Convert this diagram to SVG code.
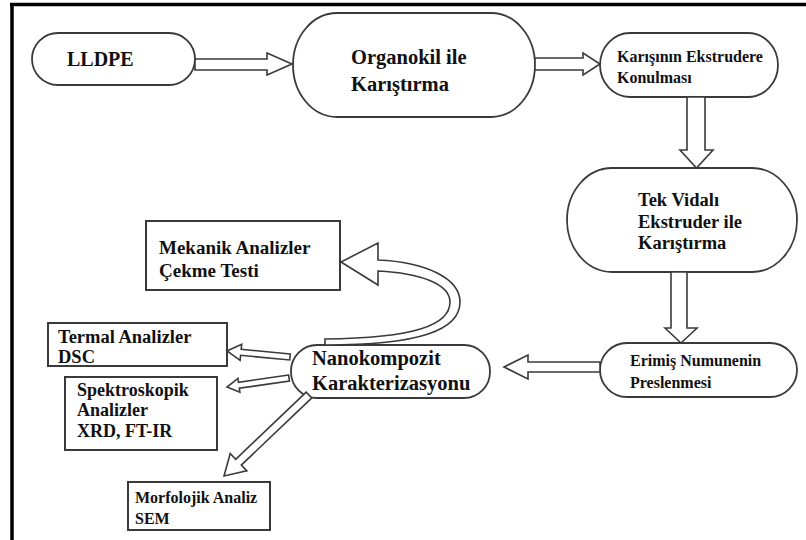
<svg xmlns="http://www.w3.org/2000/svg" width="806" height="540" viewBox="0 0 806 540" font-family="Liberation Serif, Times New Roman, serif" font-weight="bold">
<style>
.bg{fill:#fff}
.pill{fill:#fff;stroke:#3a3a3a;stroke-width:1.8}
.box{fill:#fff;stroke:#3a3a3a;stroke-width:2}
.arr{fill:#fff;stroke:#3a3a3a;stroke-width:1.6;stroke-linejoin:miter}
text{fill:#111}
.border{stroke:#000;stroke-width:3.5;fill:none}
</style>
<rect class="bg" x="0" y="0" width="806" height="540"/>
<path class="border" d="M10 4.5 H806 M12 3 V540"/>

<g id="n-lldpe">
<rect class="pill" x="32" y="33" width="163" height="52" rx="26" ry="26"/>
<text x="67" y="66" font-size="20">LLDPE</text>
</g>
<g id="n-organokil">
<rect class="pill" x="293" y="13" width="242" height="104" rx="44" ry="52"/>
<text x="351" y="64" font-size="20.5">Organokil ile</text>
<text x="351" y="91" font-size="20.5">Karıştırma</text>
</g>
<g id="n-karisim">
<rect class="pill" x="600" y="33" width="178" height="64" rx="30" ry="32"/>
<text x="617" y="62" font-size="16">Karışının Ekstrudere</text>
<text x="617" y="83" font-size="16">Konulması</text>
</g>
<g id="n-tekvidali">
<rect class="pill" x="567" y="168" width="230" height="104" rx="45" ry="52"/>
<text x="638" y="206" font-size="18.5">Tek Vidalı</text>
<text x="638" y="228" font-size="18.5">Ekstruder ile</text>
<text x="638" y="249" font-size="18.5">Karıştırma</text>
</g>
<g id="n-erimis">
<rect class="pill" x="600" y="343" width="197" height="54" rx="27" ry="27"/>
<text x="630" y="366" font-size="16">Erimiş Numunenin</text>
<text x="630" y="388" font-size="16">Preslenmesi</text>
</g>
<g id="n-nano">
<rect class="pill" x="291" y="345" width="199" height="53" rx="26" ry="26"/>
<text x="312" y="365" font-size="20.5">Nanokompozit</text>
<text x="312" y="390" font-size="20.5">Karakterizasyonu</text>
</g>
<g id="n-mekanik">
<rect class="box" x="146" y="221" width="194" height="69"/>
<text x="159" y="254" font-size="19">Mekanik Analizler</text>
<text x="159" y="277" font-size="19">Çekme Testi</text>
</g>
<g id="n-termal">
<rect class="box" x="48" y="323" width="179" height="43"/>
<text x="58" y="343" font-size="18.5">Termal Analizler</text>
<text x="58" y="363" font-size="18.5">DSC</text>
</g>
<g id="n-spektro">
<rect class="box" x="65" y="377" width="152" height="73"/>
<text x="77" y="396" font-size="18">Spektroskopik</text>
<text x="77" y="416" font-size="18">Analizler</text>
<text x="77" y="437" font-size="18">XRD, FT-IR</text>
</g>
<g id="n-morfo">
<rect class="box" x="128" y="482" width="142" height="48"/>
<text x="135" y="503" font-size="16">Morfolojik Analiz</text>
<text x="135" y="524" font-size="16">SEM</text>
</g>

<g id="connectors">
<polygon class="arr" points="195,59 267,59 267,53 292,64 267,75 267,70 195,70"/>
<polygon class="arr" points="535,58 583,58 583,53 600,64 583,75 583,70 535,70"/>
<polygon class="arr" points="687,97 687,150 680,150 696.5,168 713,150 705,150 705,97"/>
<polygon class="arr" points="671,272 671,328 665,328 681,343 697,328 687,328 687,272"/>
<polygon class="arr" points="600,362 528,362 528,355 504,367 528,379 528,372 600,372"/>
<polygon class="arr" points="290.3,354 241.2,349.3 241.7,344.3 227,351 240.1,360.3 240.6,355.3 289.7,360"/>
<polygon class="arr" points="288.6,375 238.5,382.3 237.9,378.4 227,387 239.9,392.2 239.3,388.3 289.4,381"/>
<polygon class="arr" points="306.2,392.1 235.7,459.3 230.2,453.5 224,476 246.8,470.9 241.3,465.1 311.8,397.9"/>
<path class="arr" d="M325 345 C420 345,460 330,460 302 C460 278,425 262,378 260 L378 243 L341 262 L378 285 L378 271 C420 273,450 284,450 302 C450 325,415 338,325 339 Z"/>
</g>
</svg>
